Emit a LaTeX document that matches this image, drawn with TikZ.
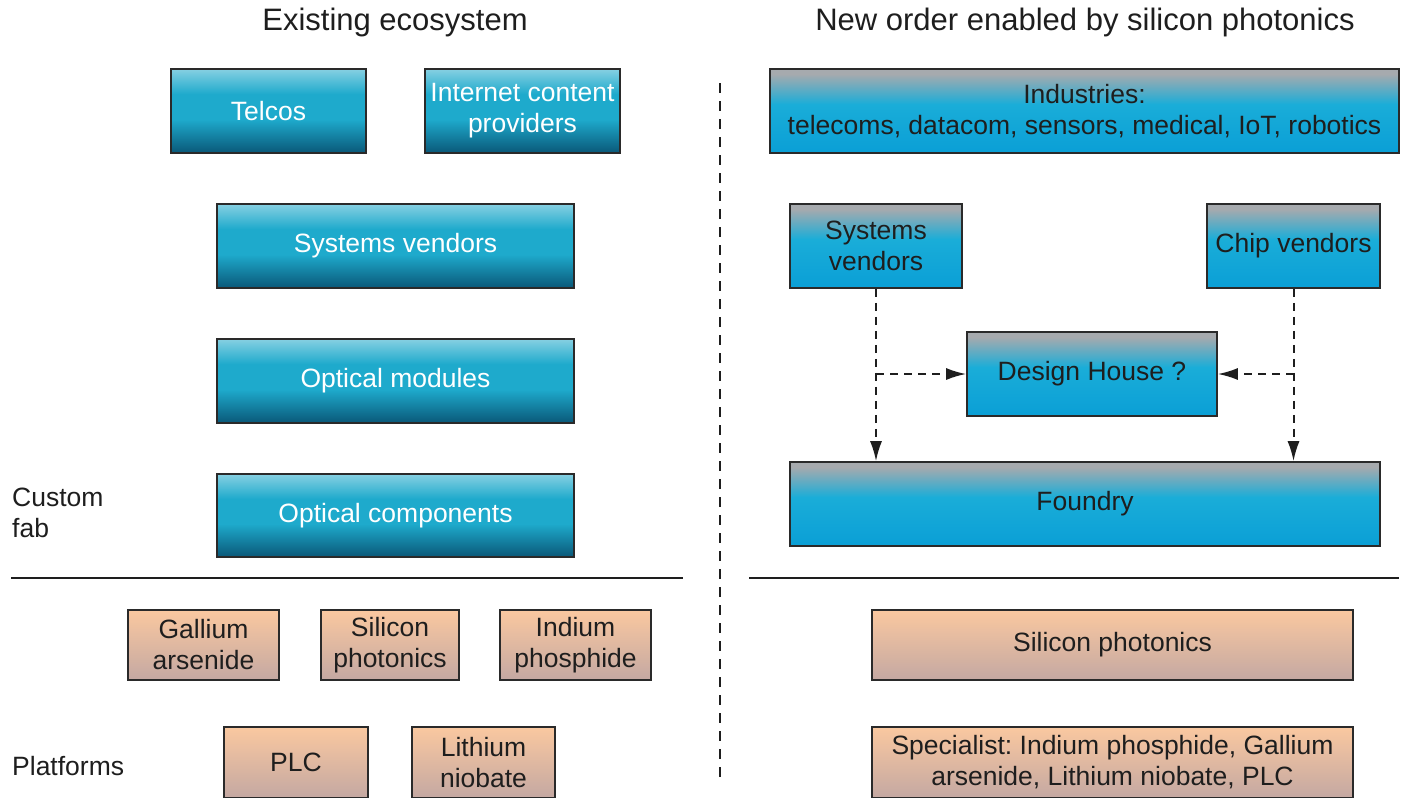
\documentclass[tikz,border=0pt]{standalone}
\usepackage{fontspec}
\setmainfont{Liberation Sans}
\usetikzlibrary{arrows.meta}
\frenchspacing
\definecolor{lbTop}{HTML}{86D0E2}
\definecolor{lbMid}{HTML}{1EAACC}
\definecolor{lbBot}{HTML}{0A5878}
\definecolor{rbTop}{HTML}{A6AAAE}
\definecolor{rbMid}{HTML}{1AADD8}
\definecolor{rbBot}{HTML}{0A9FD6}
\definecolor{orTop}{HTML}{FAC8A0}
\definecolor{orBot}{HTML}{C4A8A2}
\definecolor{edge}{HTML}{2A2A2A}
\definecolor{txt}{HTML}{1E1E1E}
\pgfdeclareverticalshading{leftgrad}{100bp}{color(0bp)=(lbBot); color(25bp)=(lbBot); color(45bp)=(lbMid); color(60bp)=(lbMid); color(75bp)=(lbTop); color(100bp)=(lbTop)}
\pgfdeclareverticalshading{rightgrad}{100bp}{color(0bp)=(rbBot); color(25bp)=(rbBot); color(54bp)=(rbMid); color(72bp)=(rbTop); color(100bp)=(rbTop)}
\pgfdeclareverticalshading{orgrad}{100bp}{color(0bp)=(orBot); color(25bp)=(orBot); color(75bp)=(orTop); color(100bp)=(orTop)}
\begin{document}
\begin{tikzpicture}[x=1pt,y=-1pt,
  base/.style={draw=edge, line width=1.6pt, rectangle, align=center, inner sep=0pt,
    font=\fontsize{26.5}{31}\selectfont},
  lbox/.style={base, shading=leftgrad, text=white},
  rbox/.style={base, shading=rightgrad, text=txt},
  obox/.style={base, shading=orgrad, text=txt},
  lbl/.style={font=\fontsize{26.5}{31}\selectfont, text=txt, align=left, inner sep=0pt},
  ttl/.style={font=\fontsize{31}{36}\selectfont, text=txt, inner sep=0pt},
  sep/.style={line width=1.6pt, draw=txt},
  flow/.style={dash pattern=on 8pt off 6pt, line width=2pt, draw=txt,
    -{Latex[length=20pt,width=12pt,fill=txt]}}
]
\useasboundingbox (0,0) rectangle (1401,798);
\fill[white] (0,0) rectangle (1401,798);

% titles
\node[ttl] (t1) at (395,22) {Existing ecosystem};
\node[ttl] (t2) at (1085,22) {New order enabled by silicon photonics};

% divider
\draw[line width=2pt, draw=txt, dash pattern=on 10pt off 8pt] (720,83) -- (720,782);

% left column
\node[lbox, minimum width=195, minimum height=84] (telcos) at (268.5,111) {Telcos};
\node[lbox, minimum width=195, minimum height=84] (icp) at (522.5,111) {Internet content\\providers};
\node[lbox, minimum width=357, minimum height=84] (sv1) at (395.5,246) {Systems vendors};
\node[lbox, minimum width=357, minimum height=84] (om) at (395.5,381) {Optical modules};
\node[lbox, minimum width=357, minimum height=83] (oc) at (395.5,515.5) {Optical components};

\node[lbl, anchor=west] (cf) at (12,513) {Custom\\fab};
\draw[sep] (11,578) -- (683,578);

\node[obox, minimum width=151, minimum height=70] (gaas) at (203.5,645) {Gallium\\arsenide};
\node[obox, minimum width=138, minimum height=70] (sip1) at (390,645) {Silicon\\photonics};
\node[obox, minimum width=151, minimum height=70] (inp1) at (575.5,645) {Indium\\phosphide};
\node[obox, minimum width=144, minimum height=71] (plc) at (296,762.5) {PLC};
\node[obox, minimum width=143, minimum height=71] (ln) at (483.5,762.5) {Lithium\\niobate};
\node[lbl, anchor=west] (plat) at (12,766) {Platforms};

% right column
\node[rbox, minimum width=629, minimum height=84] (ind) at (1084.5,111) {Industries:\\telecoms, datacom, sensors, medical, IoT, robotics};
\node[rbox, minimum width=172, minimum height=84] (sv2) at (876,246) {Systems\\vendors};
\node[rbox, minimum width=173, minimum height=84] (cv) at (1293.5,246) {Chip vendors};
\node[rbox, minimum width=250, minimum height=84] (dh) at (1092,374) {Design House ?};
\node[rbox, minimum width=590, minimum height=84] (fd) at (1085,504) {Foundry};

\draw[flow] (sv2.south) -- (sv2.south |- fd.north);
\draw[flow] (cv.south) -- (cv.south |- fd.north);
\draw[flow] (sv2.south |- dh.west) -- (dh.west);
\draw[flow] (cv.south |- dh.east) -- (dh.east);

\draw[sep] (749,578) -- (1399,578);

\node[obox, minimum width=481, minimum height=70] (sip2) at (1112.5,645) {Silicon photonics};
\node[obox, minimum width=481, minimum height=71] (spec) at (1112.5,762.5) {Specialist: Indium phosphide, Gallium\\arsenide, Lithium niobate, PLC};
\end{tikzpicture}
\end{document}
